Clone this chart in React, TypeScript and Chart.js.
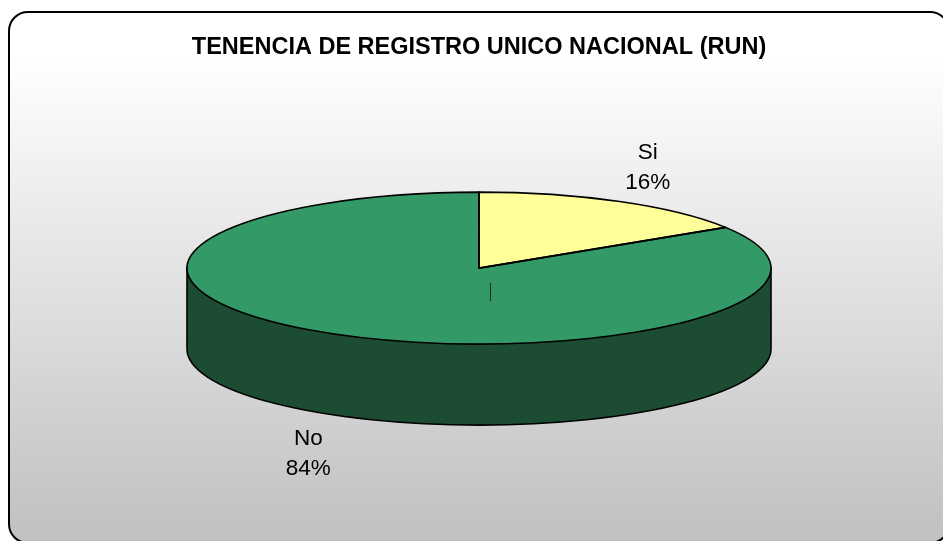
import React, { useEffect, useRef } from "react";
import { Chart, registerables } from "chart.js";

Chart.register(...registerables);

const categories = ["Si", "No"];
const shares = [16, 84];
const sliceColors = ["#FFFF99", "#339966"];
const sideColor = "#1C4D33";
const chartTitle = "TENENCIA DE REGISTRO UNICO NACIONAL (RUN)";

const TILT = 76 / 292;
const DEPTH = 81;
const FONT = "'Liberation Sans', Arial, sans-serif";
const labelShift = [
  { x: 28, y: -34 },
  { x: -30, y: 119 },
];

const pie3d = {
  id: "pie3d",
  beforeDatasetDraw(chart: any, args: any) {
    const ctx = chart.ctx;
    const arc = chart.getDatasetMeta(args.index).data[0];
    const { x, y, outerRadius: r } = arc;
    const ry = r * TILT;
    ctx.save();
    ctx.beginPath();
    ctx.moveTo(x - r, y);
    ctx.lineTo(x - r, y + DEPTH);
    ctx.ellipse(x, y + DEPTH, r, ry, 0, Math.PI, 0, true);
    ctx.lineTo(x + r, y);
    ctx.closePath();
    ctx.fillStyle = sideColor;
    ctx.fill();
    ctx.strokeStyle = "#000";
    ctx.lineWidth = 1.6;
    ctx.stroke();
    ctx.restore();
    ctx.save();
    ctx.translate(x, y);
    ctx.scale(1, TILT);
    ctx.translate(-x, -y);
  },
  afterDatasetDraw(chart: any, args: any) {
    const ctx = chart.ctx;
    ctx.restore();
    const meta = chart.getDatasetMeta(args.index);
    ctx.save();
    ctx.strokeStyle = "#000";
    ctx.lineWidth = 1.6;
    ctx.lineJoin = "round";
    meta.data.forEach((a: any, i: number) => {
      const ry = a.outerRadius * TILT;
      ctx.beginPath();
      ctx.moveTo(a.x, a.y);
      ctx.ellipse(a.x, a.y, a.outerRadius, ry, 0, a.startAngle, a.endAngle);
      ctx.closePath();
      ctx.stroke();
      const mid = (a.startAngle + a.endAngle) / 2;
      const lx = a.x + a.outerRadius * Math.cos(mid) + labelShift[i].x;
      const ly = a.y + ry * Math.sin(mid) + labelShift[i].y;
      ctx.fillStyle = "#000";
      ctx.font = `22.5px ${FONT}`;
      ctx.textAlign = "center";
      ctx.textBaseline = "middle";
      ctx.fillText(categories[i], lx, ly - 15);
      ctx.fillText(`${shares[i]}%`, lx, ly + 15.5);
    });
    const first = meta.data[0];
    ctx.beginPath();
    ctx.strokeStyle = "#1a2a20";
    ctx.lineWidth = 1;
    ctx.moveTo(first.x + 11.5, first.y + 15);
    ctx.lineTo(first.x + 11.5, first.y + 33);
    ctx.stroke();
    ctx.restore();
  },
};

export default function App() {
  const ref = useRef<HTMLCanvasElement>(null);
  useEffect(() => {
    const chart = new Chart(ref.current!, {
      type: "pie",
      data: {
        labels: categories,
        datasets: [
          {
            data: shares,
            backgroundColor: sliceColors,
            borderWidth: 0,
            clip: false,
          } as any,
        ],
      },
      options: {
        animation: false,
        responsive: false,
        radius: 292,
        rotation: 0,
        layout: { padding: { left: 15, bottom: 66 } },
        plugins: {
          legend: { display: false },
          tooltip: { enabled: false },
          title: {
            display: true,
            text: chartTitle,
            color: "#000",
            font: { family: FONT, size: 23.5, weight: "bold" },
            padding: { top: 33, bottom: 0 },
          },
        },
      } as any,
      plugins: [pie3d],
    });
    return () => chart.destroy();
  }, []);
  return (
    <div style={{ position: "fixed", left: 0, top: 0, width: 943, height: 541, overflow: "hidden", background: "#fff" }}>
      <div
        style={{
          position: "absolute",
          left: 8,
          top: 11,
          width: 938,
          height: 529,
          border: "2px solid #000",
          borderRadius: 20,
          background: "linear-gradient(180deg, #ffffff 0%, #ffffff 8%, #c0c0c0 100%)",
        }}
      />
      <canvas ref={ref} width={943} height={541} style={{ position: "absolute", left: 0, top: 0 }} />
    </div>
  );
}
